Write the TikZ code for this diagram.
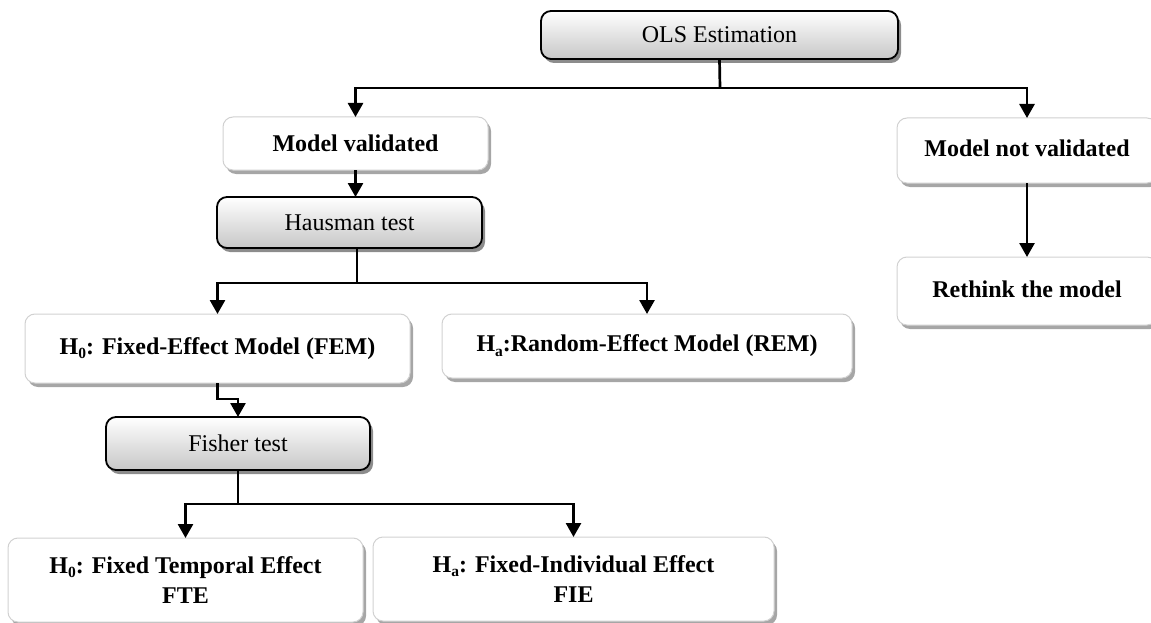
\documentclass[tikz,border=0pt]{standalone}
\usepackage{fontspec}
\setmainfont{Liberation Serif}
\usetikzlibrary{arrows.meta,shadows,calc}
\newcommand{\lowidx}[1]{\raisebox{-0.4ex}{\fontsize{15.5}{15.5}\selectfont #1}}
\begin{document}
\begin{tikzpicture}[x=1pt,y=-1pt,
  wbox/.style={draw=black!18, line width=1pt, fill=white, rounded corners=10pt,
    drop shadow={shadow xshift=3pt, shadow yshift=-4pt, fill=black!35, opacity=1},
    font=\bfseries\fontsize{24}{30}\selectfont, align=center, inner sep=0pt, outer sep=0pt},
  gbox/.style={draw=black, line width=1.8pt, rounded corners=10pt,
    top color=white, bottom color=black!22,
    drop shadow={shadow xshift=3pt, shadow yshift=-4pt, fill=black!45, opacity=1},
    font=\fontsize{24}{28}\selectfont, inner sep=0pt, outer sep=0pt},
  ln/.style={line width=2.7pt},
  arr/.style={line width=2.7pt, -{Triangle[width=15pt,length=14pt]}}]
\useasboundingbox (0,0) rectangle (1151,623);

\node[gbox, minimum width=357pt, minimum height=48pt] (ols) at (719.5,35) {OLS Estimation};
\node[wbox, minimum width=265pt, minimum height=53pt] (mv) at (355.5,143.5) {\raisebox{-1pt}{Model validated}};
\node[wbox, minimum width=260pt, minimum height=65pt] (mnv) at (1027,150.5) {\raisebox{5pt}{Model not validated}};
\node[wbox, minimum width=260pt, minimum height=68pt] (rt) at (1027,291) {\raisebox{4pt}{Rethink the model}};
\node[gbox, minimum width=265pt, minimum height=51pt] (haus) at (349.5,222.5) {Hausman test};
\node[wbox, minimum width=385pt, minimum height=69pt] (fem) at (217.5,348.5) {\raisebox{-2pt}{H\lowidx{0}: Fixed-Effect Model (FEM)}};
\node[wbox, minimum width=410pt, minimum height=64pt] (rem) at (647,346) {\raisebox{4pt}{H\lowidx{a}:Random-Effect Model (REM)}};
\node[gbox, minimum width=264pt, minimum height=53pt] (fisher) at (238,443.5) {Fisher test};
\node[wbox, minimum width=355pt, minimum height=84pt] (fte) at (185.5,580) {H\lowidx{0}: Fixed Temporal Effect\\FTE};
\node[wbox, minimum width=401pt, minimum height=84pt] (fie) at (573.5,579) {H\lowidx{a}: Fixed-Individual Effect\\FIE};

\coordinate (j1) at (720,88);
\draw[ln] (ols.south) -- (j1);
\draw[arr] (j1) -| (mv.north);
\draw[arr] (j1) -| (mnv.north);
\draw[arr] (mv.south) -- (mv.south |- haus.north);
\draw[arr] (mnv.south) -- (rt.north);

\coordinate (j2) at (357,283);
\draw[ln] (j2 |- haus.south) -- (j2);
\draw[arr] (j2) -| (fem.north);
\draw[arr] (j2) -| (rem.north);

\draw[arr] (fem.south) -- ++(0,16) -| (fisher.north);

\coordinate (j3) at (238,504);
\draw[ln] (fisher.south) -- (j3);
\draw[arr] (j3) -| (fte.north);
\draw[arr] (j3) -| (fie.north);
\end{tikzpicture}
\end{document}
